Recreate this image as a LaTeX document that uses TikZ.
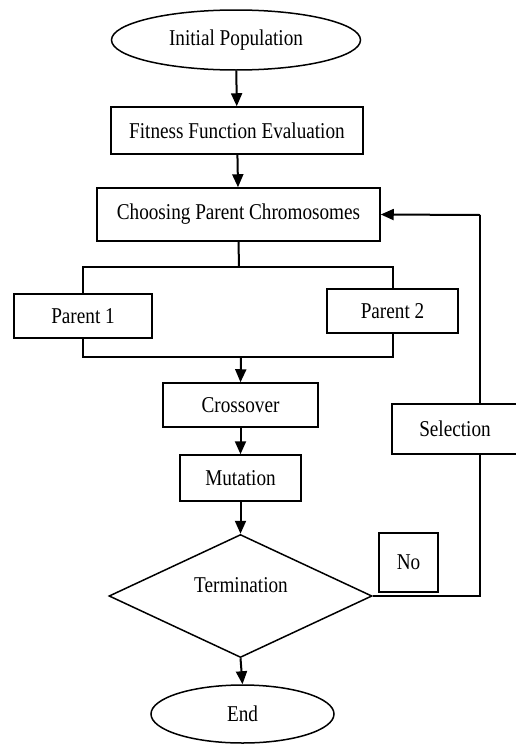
\documentclass[tikz,border=0pt]{standalone}
\usepackage{fontspec}
\setmainfont{Liberation Serif}[FakeStretch=0.85]
\usetikzlibrary{shapes.geometric,arrows.meta}

\begin{document}
\begin{tikzpicture}[x=1pt, y=-1pt,
    every node/.style={font=\fontsize{22.6}{26}\selectfont},
    box/.style={draw, line width=1.5pt, inner sep=0pt, fill=white},
    oval/.style={draw, ellipse, line width=1.5pt, inner sep=0pt},
    arrow/.style={line width=2pt, -{Triangle[width=11pt, length=13pt]}},
    link/.style={line width=2pt}]

      \useasboundingbox (0, 0) rectangle (515, 744);

      \node[oval, minimum width=249, minimum height=60] (init) at (236, 40) {Initial Population};
      \node[box, minimum width=252, minimum height=47] (fit) at (237, 130.5) {Fitness Function Evaluation};
      \node[box, minimum width=283, minimum height=53] (choose) at (238.5, 214.5) {Choosing Parent Chromosomes};
      \node[box, minimum width=138, minimum height=44] (par1) at (83, 316) {Parent 1};
      \node[box, minimum width=131, minimum height=44] (par2) at (392.5, 311) {Parent 2};
      \node[box, minimum width=155, minimum height=44] (cross) at (240.5, 405) {Crossover};
      \node[box, minimum width=121, minimum height=46] (mut) at (240.5, 478) {Mutation};
      \node[draw, diamond, line width=1.5pt, inner sep=0pt,
            minimum width=263, minimum height=123] (term) at (240.5, 596) {};
      \node (termtext) at (241, 585) {Termination};
      \node[oval, minimum width=183, minimum height=58] (end) at (242.5, 714) {End};
      \node[box, minimum width=59, minimum height=59] (no) at (408.5, 562.5) {No};

      \coordinate (split) at (239, 267);
      \coordinate (join) at (241, 357);
      \coordinate (corner) at (480, 596);
      \coordinate (back) at (480, 215);

      \draw[arrow] (init) -- (fit);
      \draw[arrow] (fit) -- (choose);
      \draw[link] (choose.south) -- (split);
      \draw[link] (par1.north) |- (split) -| (par2.north);
      \draw[link] (par1.south) |- (join) -| (par2.south);
      \draw[arrow] (join) -- (cross.north);
      \draw[arrow] (cross) -- (mut);
      \draw[arrow] (mut) -- (term.north);
      \draw[arrow] (term.south) -- (end.north);
      \draw[link] (term.east) -- (corner) -- (back);
      \draw[arrow] (back) -- (choose.east);

      \node[box, minimum width=126, minimum height=50] (sel) at (455, 429) {Selection};

    \end{tikzpicture}
\end{document}
